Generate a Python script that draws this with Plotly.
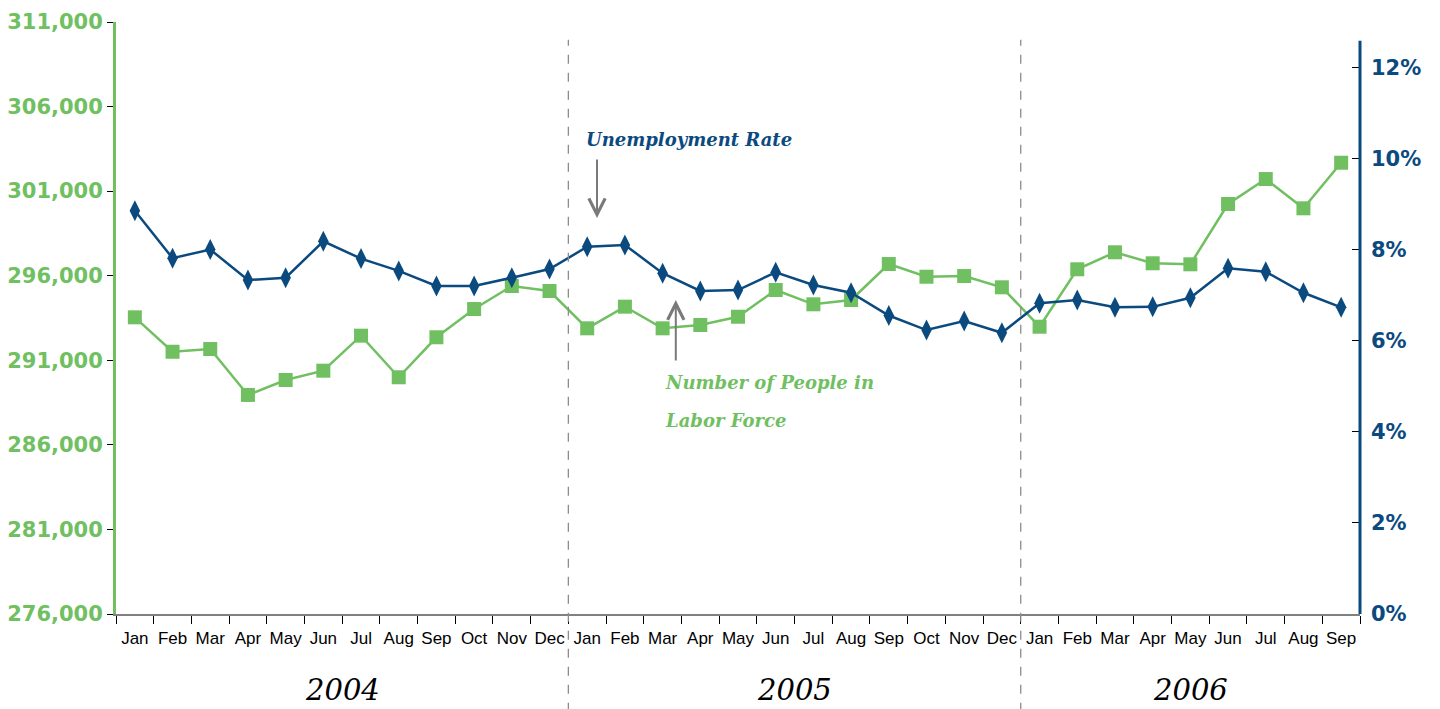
import plotly.graph_objects as go

# ---- data ----
years = ["2004", "2005", "2006"]
month_names = ["Jan", "Feb", "Mar", "Apr", "May", "Jun", "Jul", "Aug", "Sep", "Oct", "Nov", "Dec"]
months_per_year = [12, 12, 9]
categories = [f"{m} {y}" for y, n in zip(years, months_per_year) for m in month_names[:n]]
tick_text = [c.split(" ")[0] for c in categories]

labor_force = [293540, 291505, 291665, 288950, 289835, 290385, 292455, 289995, 292360, 294030, 295390, 295095,
               292890, 294170, 292890, 293085, 293575, 295155, 294310, 294565, 296690, 295940, 295980, 295315,
               292985, 296380, 297385, 296735, 296675, 300240, 301715, 299985, 302680]
unemployment_rate = [8.86, 7.82, 8.01, 7.34, 7.39, 8.19, 7.81, 7.54, 7.21, 7.21, 7.39, 7.58,
                     8.07, 8.11, 7.49, 7.10, 7.12, 7.51, 7.23, 7.06, 6.56, 6.24, 6.44, 6.18,
                     6.83, 6.90, 6.74, 6.75, 6.95, 7.60, 7.52, 7.06, 6.74]

left_ticks = list(range(276000, 311001, 5000))
right_ticks = [0, 2, 4, 6, 8, 10, 12]
right_tick_text = [f"{v}%" for v in right_ticks]

GREEN = "#70C062"
BLUE = "#0B4A7F"
GRAY = "#808080"

fig = go.Figure()
fig.add_trace(go.Scatter(
    x=categories, y=labor_force, mode="lines+markers", name="Number of People in Labor Force",
    line=dict(color=GREEN, width=2.5),
    marker=dict(symbol="square", size=14, color=GREEN),
    yaxis="y"))
fig.add_trace(go.Scatter(
    x=categories, y=unemployment_rate, mode="lines+markers", name="Unemployment Rate",
    line=dict(color=BLUE, width=2.5),
    marker=dict(symbol="diamond-tall", size=15, color=BLUE),
    yaxis="y2"))

script_font = "DejaVu Serif"

# year separators (dashed)
starts = []
acc = 0
for n in months_per_year:
    starts.append(acc)
    acc += n
for s in starts[1:]:
    fig.add_shape(type="line", xref="x", yref="paper", x0=s - 0.5, x1=s - 0.5, y0=-0.165, y1=0.97,
                  line=dict(color="#8C8C8C", width=1.3, dash="dash"))

# right axis line (shorter than plot area)
fig.add_shape(type="line", xref="paper", yref="y2", x0=1, x1=1, y0=0, y1=12.6,
              line=dict(color=BLUE, width=3))

# year labels
for y, s, n in zip(years, starts, months_per_year):
    fig.add_annotation(x=s + (n - 1) / 2, xref="x", y=0, yref="paper", yshift=-95,
                       text=f"<i>{y}</i>", showarrow=False,
                       font=dict(family=script_font, size=29, color="black"))

# series labels
fig.add_annotation(x=11.92, xref="x", y=10.42, yref="y2", xanchor="left", yanchor="middle",
                   text="<b><i>Unemployment Rate</i></b>", showarrow=False,
                   font=dict(family=script_font, size=18, color=BLUE))
fig.add_annotation(x=14.02, xref="x", y=5.08, yref="y2", xanchor="left", yanchor="middle",
                   text="<b><i>Number of People in</i></b>", showarrow=False,
                   font=dict(family=script_font, size=18, color=GREEN))
fig.add_annotation(x=14.02, xref="x", y=4.26, yref="y2", xanchor="left", yanchor="middle",
                   text="<b><i>Labor Force</i></b>", showarrow=False,
                   font=dict(family=script_font, size=18, color=GREEN))

# arrows
fig.add_annotation(x=12.26, xref="x", y=8.70, yref="y2", ax=0, ay=-60, text="", showarrow=True,
                   arrowhead=5, arrowsize=1.6, arrowwidth=2, arrowcolor="#7A7A7A")
fig.add_annotation(x=14.35, xref="x", y=6.90, yref="y2", ax=0, ay=62, text="", showarrow=True,
                   arrowhead=5, arrowsize=1.6, arrowwidth=2, arrowcolor="#7A7A7A")

fig.update_layout(
    width=1432, height=701,
    margin=dict(l=108, r=80, t=14, b=95, autoexpand=False),
    plot_bgcolor="white", paper_bgcolor="white",
    showlegend=False,
    xaxis=dict(
        type="category", categoryorder="array", categoryarray=categories,
        tickvals=categories, ticktext=tick_text, tickson="boundaries", tickangle=0,
        ticks="outside", ticklen=8, tickcolor="black", tickwidth=1,
        showline=True, linecolor=GRAY, linewidth=2,
        showgrid=False, zeroline=False, automargin=False, ticklabelstandoff=8,
        tickfont=dict(family="Liberation Sans", size=17, color="black"),
        range=[-0.5, len(categories) - 0.5],
    ),
    yaxis=dict(
        range=[276000, 311000], tickvals=left_ticks, tickformat=",d",
        showline=True, linecolor=GREEN, linewidth=3,
        ticks="outside", ticklen=6, tickcolor="black", tickwidth=1,
        showgrid=False, zeroline=False, automargin=False,
        tickfont=dict(family="DejaVu Sans", size=21, color=GREEN, weight="bold"),
    ),
    yaxis2=dict(
        overlaying="y", side="right", range=[0, 13.01], tickvals=right_ticks, ticktext=right_tick_text,
        showline=False,
        ticks="inside", ticklen=8, tickcolor="black", tickwidth=1,
        showgrid=False, zeroline=False, ticklabelstandoff=10, automargin=False,
        tickfont=dict(family="DejaVu Sans", size=21, color=BLUE, weight="bold"),
    ),
)

fig.write_html("out.html")
